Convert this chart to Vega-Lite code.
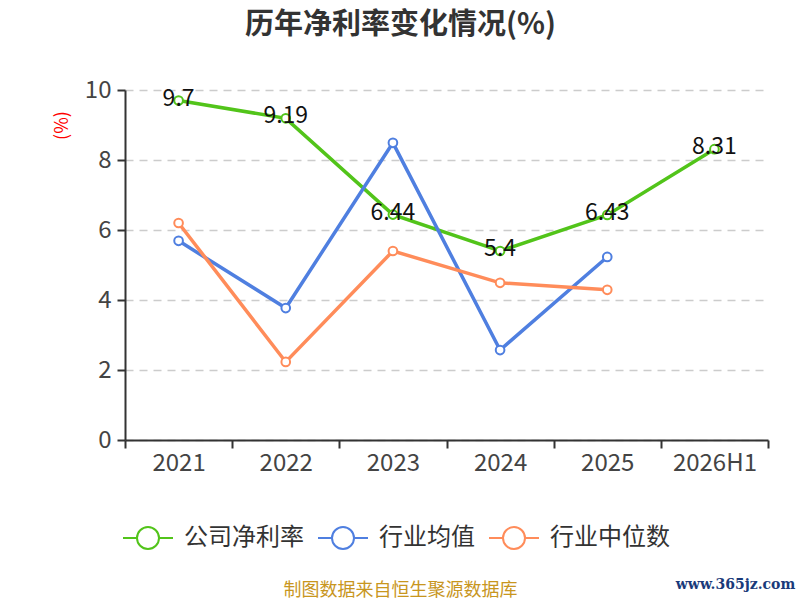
{
  "$schema": "https://vega.github.io/schema/vega-lite/v6.json",
  "autosize": "none",
  "width": 643,
  "height": 350,
  "padding": {"left": 125, "top": 90, "right": 32, "bottom": 160},
  "background": "white",
  "config": {
    "view": {"stroke": null},
    "font": "Noto Sans CJK SC"
  },
  "title": {
    "text": "历年净利率变化情况(%)",
    "fontSize": 29,
    "fontWeight": "bold",
    "color": "#333333",
    "anchor": "middle",
    "dx": -46,
    "offset": 38
  },
  "data": {
    "values": [
      {"year": "2021", "series": "公司净利率", "value": 9.7},
      {"year": "2022", "series": "公司净利率", "value": 9.19},
      {"year": "2023", "series": "公司净利率", "value": 6.44},
      {"year": "2024", "series": "公司净利率", "value": 5.4},
      {"year": "2025", "series": "公司净利率", "value": 6.43},
      {"year": "2026H1", "series": "公司净利率", "value": 8.31},
      {"year": "2021", "series": "行业均值", "value": 5.69},
      {"year": "2022", "series": "行业均值", "value": 3.77},
      {"year": "2023", "series": "行业均值", "value": 8.49},
      {"year": "2024", "series": "行业均值", "value": 2.57},
      {"year": "2025", "series": "行业均值", "value": 5.23},
      {"year": "2021", "series": "行业中位数", "value": 6.2},
      {"year": "2022", "series": "行业中位数", "value": 2.23},
      {"year": "2023", "series": "行业中位数", "value": 5.4},
      {"year": "2024", "series": "行业中位数", "value": 4.49},
      {"year": "2025", "series": "行业中位数", "value": 4.29}
    ]
  },
  "encoding": {
    "x": {
      "field": "year",
      "type": "ordinal",
      "sort": ["2021", "2022", "2023", "2024", "2025", "2026H1"],
      "scale": {"paddingInner": 0, "paddingOuter": 0},
      "axis": {
        "title": "制图数据来自恒生聚源数据库",
        "titleColor": "#c8961e",
        "titleFontSize": 18,
        "titleFontWeight": "normal",
        "titleX": 275,
        "titleY": 150,
        "titleBaseline": "middle",
        "labelAngle": 0,
        "labelFontSize": 24,
        "labelColor": "#444444",
        "labelPadding": 3,
        "tickBand": "extent",
        "tickSize": 8,
        "tickColor": "#333333",
        "tickWidth": 2,
        "domainColor": "#333333",
        "domainWidth": 2
      }
    }
  },
  "layer": [
    {
      "mark": {
        "type": "line",
        "strokeWidth": 3.5,
        "point": {"filled": false, "fill": "white", "size": 75, "strokeWidth": 2}
      },
      "encoding": {
        "y": {
          "field": "value",
          "type": "quantitative",
          "scale": {"domain": [0, 10]},
          "axis": {
            "title": "(%)",
            "titleColor": "#ff0000",
            "titleFontSize": 18,
            "titleFontWeight": "normal",
            "titleX": -63,
            "titleY": 35,
            "titleAlign": "center",
            "titleBaseline": "middle",
            "values": [0, 2, 4, 6, 8, 10],
            "labelFontSize": 24,
            "labelColor": "#444444",
            "labelPadding": 6,
            "tickSize": 8,
            "tickColor": "#333333",
            "tickWidth": 2,
            "domainColor": "#333333",
            "domainWidth": 2,
            "gridColor": "#cccccc",
            "gridDash": [8, 6],
            "gridWidth": 1.5
          }
        },
        "color": {
          "field": "series",
          "type": "nominal",
          "scale": {
            "domain": ["公司净利率", "行业均值", "行业中位数"],
            "range": ["#52c41a", "#4f7fe0", "#ff8c5a"]
          },
          "legend": {
            "title": null,
            "orient": "none",
            "direction": "horizontal",
            "legendX": -3,
            "legendY": 422,
            "padding": 0,
            "symbolType": "M-1,0L-0.44,0M0.44,0L1,0M0.44,0A0.44,0.44,0,1,1,-0.44,0A0.44,0.44,0,1,1,0.44,0",
            "symbolSize": 2500,
            "symbolStrokeWidth": 2,
            "symbolFillColor": "white",
            "labelFontSize": 24,
            "labelColor": "#333333",
            "labelOffset": 10,
            "columnPadding": 10
          }
        }
      }
    },
    {
      "transform": [{"filter": "datum.series === '公司净利率'"}],
      "mark": {
        "type": "text",
        "fontSize": 23,
        "color": "#111111",
        "align": "center",
        "baseline": "middle",
        "dy": -2
      },
      "encoding": {
        "y": {
          "field": "value",
          "type": "quantitative",
          "scale": {"domain": [0, 10]},
          "axis": {
            "orient": "right",
            "title": "www.365jz.com",
            "titleFont": "DejaVu Serif",
            "titleFontSize": 14,
            "titleFontWeight": "bold",
            "titleColor": "#1a3a7a",
            "titleAngle": 0,
            "titleAlign": "center",
            "titleBaseline": "middle",
            "titleX": -33,
            "titleY": 494,
            "labels": false,
            "ticks": false,
            "domain": false,
            "grid": false
          }
        },
        "text": {"field": "value", "type": "quantitative"}
      }
    }
  ],
  "resolve": {"scale": {"y": "independent"}}
}
